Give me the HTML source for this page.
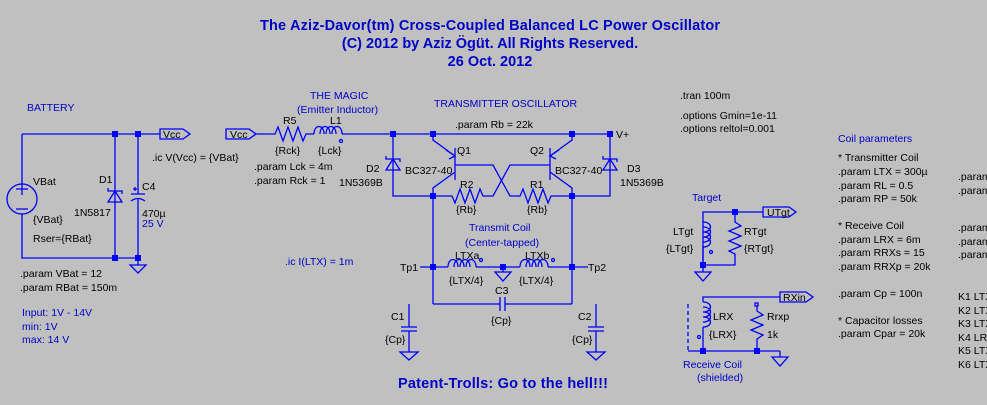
<!DOCTYPE html>
<html><head><meta charset="utf-8"><style>
html,body{margin:0;padding:0;background:#c0c0c0;}
svg{display:block;}
text{font-family:"Liberation Sans",sans-serif;font-size:10.5px;fill:#000;}
.b{fill:#0000c8;}
.t{font-weight:bold;font-size:14.5px;fill:#0000c8;}
</style></head><body>
<svg width="987" height="405" viewBox="0 0 987 405" xmlns="http://www.w3.org/2000/svg">
<rect width="987" height="405" fill="#c0c0c0"/>
<g stroke="#0000ff" stroke-width="1.3" fill="none">
<path d="M22 134H160M22 134V184M22 214V258H138M115 134V258M138 134V194M138 199V258"/>
<circle cx="22" cy="199" r="15"/>
<path d="M16 189H28M22 183V195M16 209H28"/>
<path d="M108 202H122L115 191Z M108 188V191H122V194"/>
<path d="M131 194H145M131 201Q138 196 145 201M133 189H137M135 187V191"/>
<path d="M130 265H146L138 273Z M138 258V265"/>
<path d="M160 129H183L190 134L183 139H160Z"/>
<path d="M226 129H249L256 134L249 139H226Z"/>
<path d="M256 134H275L278 127L283 141L288 127L293 141L298 127L303 141L306 134H314"/>
<path d="M314 134C314 124 324 124 324 134M320 134C320 124 330 124 330 134M326 134C326 124 336 124 336 134M332 134C332 124 342 124 342 134"/>
<circle cx="341" cy="141" r="1.5"/>
<path d="M342 134H612"/>
<path d="M393 134V196H433M386 170H400L393 159Z M386 156V159H400V162"/>
<path d="M610 134V196H572M603 170H617L610 159Z M603 156V159H617V162"/>
<path d="M433 134V140L455 156M455 148V180M455 172L433 188V304"/>
<path d="M446 150L455 156L449 159"/>
<path d="M572 134V140L550 156M550 148V180M550 172L572 188V304"/>
<path d="M559 150L550 156L556 159"/>
<path d="M455 165H493L510 196H520L523 189L528 203L533 189L538 203L543 189L548 203L551 196H572"/>
<path d="M550 165H510L493 196H483L480 189L475 203L470 189L465 203L460 189L455 203L452 196H433"/>
<path d="M420 267H448M448 267C448 257 458 257 458 267M454 267C454 257 464 257 464 267M460 267C460 257 470 257 470 267M466 267C466 257 476 257 476 267M476 267H520"/>
<path d="M520 267C520 257 530 257 530 267M526 267C526 257 536 257 536 267M532 267C532 257 542 257 542 267M538 267C538 257 548 257 548 267M548 267H588"/>
<circle cx="481" cy="260" r="1.5"/><circle cx="553" cy="260" r="1.5"/>
<path d="M503 267V272M495 272H511L503 281Z"/>
<path d="M433 304H500M505 304H572M500 297V311M505 297V311"/>
<path d="M409 304V327M401 327H417M401 331H417M409 331V352M400 352H418L409 360Z"/>
<path d="M596 304V327M588 327H604M588 331H604M596 331V352M587 352H605L596 360Z"/>
<path d="M703 222V212H763M735 212V222L741 226L729 231L741 236L729 241L741 246L729 251L735 254V265H703V222"/>
<path d="M703 222C713 222 713 232 703 232M703 227C713 227 713 237 703 237M703 232C713 232 713 242 703 242M703 237C713 237 713 247 703 247M703 247V265"/>
<circle cx="711" cy="252" r="1.5"/>
<path d="M703 265V272M695 272H711L703 281Z"/>
<path d="M763 207H789L796 212L789 217H763Z"/>
<path d="M780 297H703V302M703 302C713 302 713 312 703 312M703 307C713 307 713 317 703 317M703 312C713 312 713 322 703 322M703 317C713 317 713 327 703 327M703 327V351"/>
<circle cx="699" cy="337" r="1.5"/>
<path d="M688 351H780M780 351V357M772 357H788L780 366Z"/>
<path d="M688 304V351" stroke-dasharray="4 3"/>
<rect x="755" y="303" width="3" height="3"/>
<path d="M757 306V311L763 315L751 320L763 325L751 330L763 335L757 339V351"/>
<path d="M780 292H806L813 297L806 302H780Z"/>
</g>
<g fill="#0000ff">
<rect x="112" y="131" width="6" height="6"/><rect x="135" y="131" width="6" height="6"/>
<rect x="112" y="255" width="6" height="6"/><rect x="135" y="255" width="6" height="6"/>
<rect x="390" y="131" width="6" height="6"/><rect x="430" y="131" width="6" height="6"/>
<rect x="569" y="131" width="6" height="6"/><rect x="607" y="131" width="6" height="6"/>
<rect x="430" y="193" width="6" height="6"/><rect x="569" y="193" width="6" height="6"/>
<rect x="430" y="264" width="6" height="6"/><rect x="569" y="264" width="6" height="6"/>
<rect x="500" y="264" width="6" height="6"/>
<rect x="732" y="209" width="6" height="6"/><rect x="700" y="262" width="6" height="6"/>
<rect x="700" y="348" width="6" height="6"/><rect x="754" y="348" width="6" height="6"/>
</g>
<text class="t" x="490" y="30" text-anchor="middle" textLength="460">The Aziz-Davor(tm) Cross-Coupled Balanced LC Power Oscillator</text>
<text class="t" x="490" y="48" text-anchor="middle">(C) 2012 by Aziz Ögüt. All Rights Reserved.</text>
<text class="t" x="490" y="66" text-anchor="middle">26 Oct. 2012</text>
<text class="t" x="398" y="388" textLength="210">Patent-Trolls: Go to the hell!!!</text>

<text class="b" x="27" y="111">BATTERY</text>
<text x="33" y="185">VBat</text><text x="33" y="223">{VBat}</text><text x="33" y="242">Rser={RBat}</text>
<text x="99" y="183">D1</text><text x="74" y="216">1N5817</text>
<text x="142" y="190">C4</text><text x="142" y="217">470µ</text><text class="b" x="142" y="227">25 V</text>
<text x="163" y="138">Vcc</text><text x="230" y="138">Vcc</text>
<text x="152" y="161">.ic V(Vcc) = {VBat}</text>
<text x="20" y="277">.param VBat = 12</text><text x="20" y="291">.param RBat = 150m</text>
<text class="b" x="22" y="316">Input: 1V - 14V</text><text class="b" x="22" y="330">min: 1V</text><text class="b" x="22" y="343">max: 14 V</text>

<text class="b" x="310" y="99">THE MAGIC</text><text class="b" x="297" y="113">(Emitter Inductor)</text>
<text x="283" y="124">R5</text><text x="330" y="124">L1</text>
<text x="275" y="154">{Rck}</text><text x="318" y="154">{Lck}</text>
<text x="254" y="170">.param Lck = 4m</text><text x="254" y="184">.param Rck = 1</text>
<text class="b" x="434" y="107">TRANSMITTER OSCILLATOR</text>
<text x="455" y="128">.param Rb = 22k</text>
<text x="616" y="138">V+</text>
<text x="457" y="154">Q1</text><text x="405" y="174">BC327-40</text>
<text x="366" y="172">D2</text><text x="339" y="186">1N5369B</text>
<text x="460" y="188">R2</text><text x="456" y="213">{Rb}</text>
<text x="530" y="188">R1</text><text x="527" y="213">{Rb}</text>
<text x="530" y="154">Q2</text><text x="555" y="174">BC327-40</text>
<text x="627" y="172">D3</text><text x="620" y="186">1N5369B</text>
<text class="b" x="469" y="231">Transmit Coil</text><text class="b" x="465" y="246">(Center-tapped)</text>
<text x="455" y="259">LTXa</text><text x="525" y="259">LTXb</text>
<text x="449" y="284">{LTX/4}</text><text x="519" y="284">{LTX/4}</text>
<text x="400" y="271">Tp1</text><text x="588" y="271">Tp2</text>
<text class="b" x="285" y="265">.ic I(LTX) = 1m</text>
<text x="495" y="294">C3</text><text x="491" y="324">{Cp}</text>
<text x="391" y="320">C1</text><text x="385" y="343">{Cp}</text>
<text x="578" y="320">C2</text><text x="572" y="343">{Cp}</text>

<text x="680" y="99">.tran 100m</text>
<text x="680" y="119">.options Gmin=1e-11</text>
<text x="680" y="132">.options reltol=0.001</text>

<text class="b" x="692" y="201">Target</text>
<text x="767" y="216">UTgt</text>
<text x="673" y="235">LTgt</text><text x="666" y="252">{LTgt}</text>
<text x="744" y="235">RTgt</text><text x="744" y="252">{RTgt}</text>
<text x="783" y="301">RXin</text>
<text x="713" y="320">LRX</text><text x="709" y="338">{LRX}</text>
<text x="767" y="320">Rrxp</text><text x="767" y="338">1k</text>
<text class="b" x="683" y="368">Receive Coil</text><text class="b" x="697" y="381">(shielded)</text>

<text class="b" x="838" y="142">Coil parameters</text>
<text x="838" y="161">* Transmitter Coil</text>
<text x="838" y="175">.param LTX = 300µ</text>
<text x="838" y="189">.param RL = 0.5</text>
<text x="838" y="202">.param RP = 50k</text>
<text x="838" y="229">* Receive Coil</text>
<text x="838" y="243">.param LRX = 6m</text>
<text x="838" y="256">.param RRXs = 15</text>
<text x="838" y="270">.param RRXp = 20k</text>
<text x="838" y="297">.param Cp = 100n</text>
<text x="838" y="324">* Capacitor losses</text>
<text x="838" y="337">.param Cpar = 20k</text>
<text x="958" y="180">.param</text><text x="958" y="194">.param</text>
<text x="958" y="231">.param</text><text x="958" y="245">.param</text><text x="958" y="258">.param</text>
<text x="958" y="300">K1 LTX</text><text x="958" y="314">K2 LTX</text><text x="958" y="327">K3 LTX</text>
<text x="958" y="341">K4 LRX</text><text x="958" y="354">K5 LTX</text><text x="958" y="368">K6 LTX</text>
</svg>
</body></html>
